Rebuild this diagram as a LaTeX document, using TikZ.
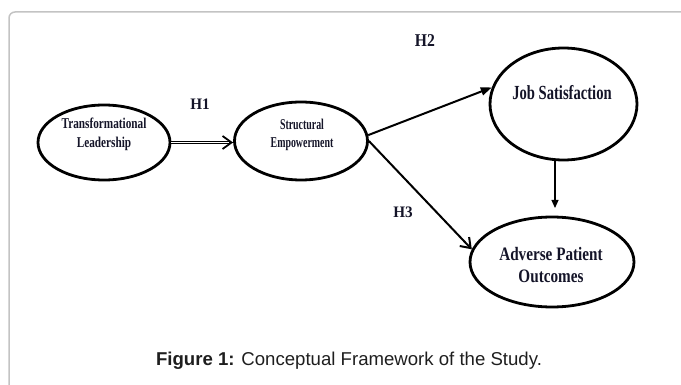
\documentclass[tikz,border=0pt]{standalone}
\usepackage{fontspec}
\setmainfont{Liberation Serif}
\newfontfamily\capfont{Liberation Sans}
\usetikzlibrary{shapes.geometric,arrows.meta}
\definecolor{ink}{RGB}{20,20,40}
\definecolor{framegray}{RGB}{195,195,195}
\definecolor{captext}{RGB}{30,30,30}
\newcommand{\cnd}[2]{\scalebox{#1}[1]{#2}}
\begin{document}
\begin{tikzpicture}[x=1pt,y=-1pt,
  oval/.style={ellipse, draw=black, line width=2.8pt, inner sep=0pt},
  lbl/.style={text=ink, inner sep=0pt},
  link/.style={draw=black, line width=2pt},
  dlink/.style={draw=black, line width=1.1pt, double=white, double distance=1.3pt},
  barb/.style={-{Straight Barb[length=9pt,width=13pt]}},
  tri/.style={-{Triangle[length=11pt,width=8pt]}}]
\useasboundingbox (0,0) rectangle (681,385);
\clip (0,0) rectangle (681,385);
\draw[framegray, line width=1.5pt, rounded corners=6pt] (9,400) -- (9,12) -- (700,12);

% ellipses
\node[oval, minimum width=132pt, minimum height=75pt] (tl) at (104,142.5) {};
\node[oval, minimum width=133pt, minimum height=78pt] (se) at (301,141) {};
\node[oval, minimum width=147pt, minimum height=112pt] (js) at (563.5,104) {};
\node[oval, minimum width=164pt, minimum height=90pt] (ap) at (552,262) {};

% ellipse texts
\node[lbl, align=center, font=\bfseries\fontsize{15}{19}\selectfont] (tlt) at (104,134)
  {\cnd{0.75}{Transformational}\\\cnd{0.75}{Leadership}};
\node[lbl, align=center, font=\bfseries\fontsize{15}{18}\selectfont] (set) at (302,135)
  {\cnd{0.66}{Structural}\\\cnd{0.66}{Empowerment}};
\node[lbl, anchor=base, font=\bfseries\fontsize{20}{24}\selectfont] (jst) at (562,100)
  {\cnd{0.73}{Job Satisfaction}};
\node[lbl, align=center, font=\bfseries\fontsize{19}{22}\selectfont] (apt) at (551,265)
  {\cnd{0.8}{Adverse Patient}\\\cnd{0.8}{Outcomes}};

% hypothesis labels
\node[lbl, anchor=base, font=\bfseries\fontsize{16}{19}\selectfont] (h1) at (200,110) {\cnd{0.95}{H1}};
\node[lbl, anchor=base, font=\bfseries\fontsize{18}{21}\selectfont] (h2) at (425,47) {\cnd{0.87}{H2}};
\node[lbl, anchor=base, font=\bfseries\fontsize{16}{19}\selectfont] (h3) at (403,218) {\cnd{0.95}{H3}};

% connectors
\coordinate (h1end) at (tl.east -| se.west);
\draw[dlink, shorten >=2pt] (tl.east) -- (h1end);
\draw[line width=1.8pt, barb] ([xshift=-4pt]h1end) -- (h1end);
\draw[link, tri] (se.5) -- (js.167);
\draw[link, barb] (se.0) -- (ap.171);
\coordinate (va) at (555,160);
\coordinate (vb) at (555,208);
\draw[line width=1.2pt, -{Triangle[length=8pt,width=7pt]}] (va) -- (vb);

% caption
\node[anchor=base, inner sep=0pt, text=captext, font=\capfont\fontsize{18.6}{22}\selectfont] (cap) at (349,365)
  {\textbf{Figure 1:} Conceptual Framework of the Study.};
\end{tikzpicture}
\end{document}
